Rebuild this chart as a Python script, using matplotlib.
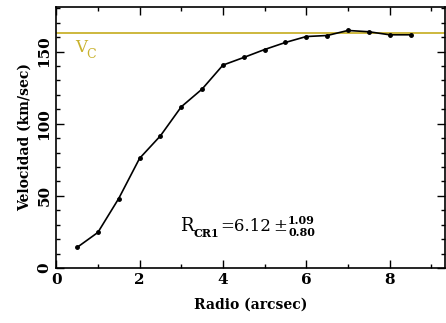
import matplotlib
matplotlib.use("Agg")
import matplotlib.pyplot as plt
from matplotlib.ticker import MultipleLocator

# rotation curve
radio = [0.5, 1.0, 1.5, 2.0, 2.5, 3.0, 3.5, 4.0, 4.5, 5.0, 5.5, 6.0, 6.5, 7.0, 7.5, 8.0, 8.5]
velocidad = [14.3, 24.7, 48.2, 76.0, 91.6, 111.7, 124.0, 140.6, 145.9, 151.4, 156.3,
             160.4, 161.1, 164.6, 163.7, 161.6, 161.6]
v_c = 162.7
r_cr1 = 6.12
err_up = 1.09
err_low = 0.80

plt.rcParams['font.family'] = 'DejaVu Serif'

fig = plt.figure(figsize=(4.46, 3.23), dpi=100)
ax = fig.add_axes([0.126, 0.170, 0.872, 0.809])

vc_color = '#c9b22e'
ax.axhline(v_c, color=vc_color, lw=1.3, zorder=1)
ax.plot(radio, velocidad, color='black', lw=1.2, marker='o', ms=2.5, zorder=2)

ax.set_xlim(0, 9.33)
ax.set_ylim(0, 181)
ax.xaxis.set_major_locator(MultipleLocator(2))
ax.xaxis.set_minor_locator(MultipleLocator(1))
ax.yaxis.set_major_locator(MultipleLocator(50))
ax.yaxis.set_minor_locator(MultipleLocator(10))
ax.tick_params(which='both', direction='in', top=True, right=True, labelsize=11)
ax.tick_params(which='major', length=6, width=1)
ax.tick_params(which='minor', length=3, width=1)
for lab in ax.get_xticklabels() + ax.get_yticklabels():
    lab.set_fontweight('bold')
for lab in ax.get_yticklabels():
    lab.set_rotation(90)
    lab.set_va('center')
for s in ax.spines.values():
    s.set_linewidth(1.2)

ax.set_xlabel('Radio (arcsec)', fontsize=10, fontweight='bold', labelpad=8)
ax.set_ylabel('Velocidad (km/sec)', fontsize=10, fontweight='bold', labelpad=4)

# V_C label
ax.text(0.45, 150, 'V', color=vc_color, fontsize=12, va='baseline')
ax.text(0.72, 145.5, 'C', color=vc_color, fontsize=9, va='baseline')

# corotation radius with asymmetric errors, each piece placed after the previous one
t_r = ax.text(2.97, 25.6, 'R', fontsize=13, va='baseline')
t_sub = ax.annotate('CR1', xy=(1, 0), xycoords=t_r, xytext=(0, -3),
                    textcoords='offset points', fontsize=8, fontweight='bold',
                    va='bottom', ha='left')
t_eq = ax.annotate(f'={r_cr1:.2f}', xy=(1, 0), xycoords=(t_sub, t_r), xytext=(1, 0),
                   textcoords='offset points', fontsize=12, va='bottom', ha='left')
t_pm = ax.annotate('±', xy=(1, 0), xycoords=t_eq, xytext=(1, 0),
                   textcoords='offset points', fontsize=12, va='bottom', ha='left')
ax.annotate(f'{err_up:.2f}', xy=(1, 0.5), xycoords=t_pm, xytext=(1, 0.5),
            textcoords='offset points', fontsize=8, fontweight='bold', va='bottom', ha='left')
ax.annotate(f'{err_low:.2f}', xy=(1, 0.5), xycoords=t_pm, xytext=(1, -0.5),
            textcoords='offset points', fontsize=8, fontweight='bold', va='top', ha='left')

fig.savefig('out.png', dpi=100)
